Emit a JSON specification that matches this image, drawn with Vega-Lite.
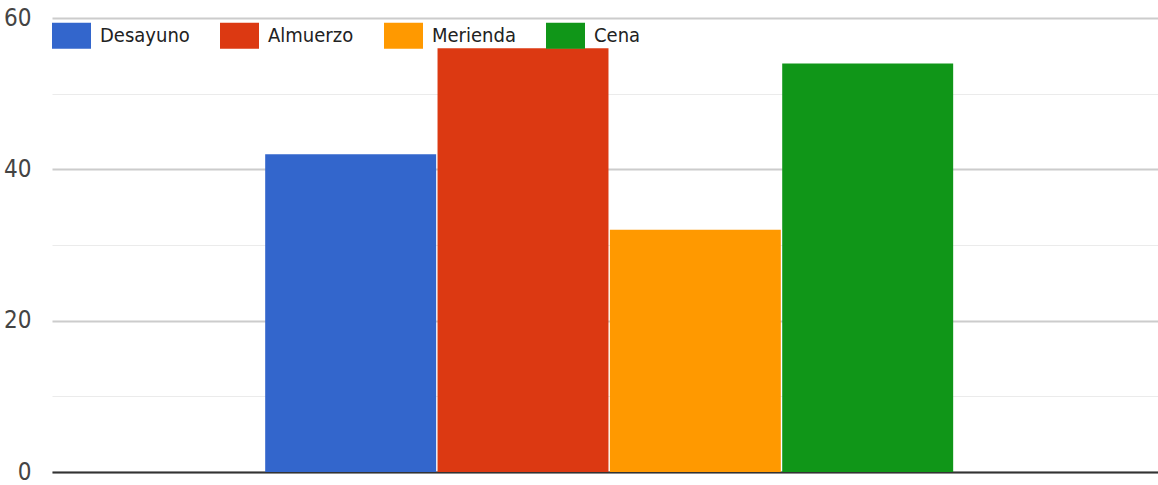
{
  "$schema": "https://vega.github.io/schema/vega-lite/v6.json",
  "autosize": "none",
  "width": 1106,
  "height": 454,
  "padding": {"left": 52, "top": 18, "right": 0, "bottom": 13},
  "background": "white",
  "config": {
    "view": {"stroke": null},
    "font": "DejaVu Sans Condensed, sans-serif"
  },
  "data": {
    "values": [
      {"grupo": "", "comida": "Desayuno", "valor": 42},
      {"grupo": "", "comida": "Almuerzo", "valor": 56},
      {"grupo": "", "comida": "Merienda", "valor": 32},
      {"grupo": "", "comida": "Cena", "valor": 54}
    ]
  },
  "mark": {"type": "bar"},
  "encoding": {
    "x": {
      "field": "grupo",
      "type": "nominal",
      "scale": {"paddingInner": 0, "paddingOuter": 0.3038, "align": 0.51},
      "axis": {
        "title": null,
        "labels": false,
        "ticks": false,
        "domainColor": "#333333",
        "domainWidth": 2
      }
    },
    "xOffset": {
      "field": "comida",
      "type": "nominal",
      "sort": ["Desayuno", "Almuerzo", "Merienda", "Cena"],
      "scale": {"paddingInner": 0.008, "paddingOuter": 0}
    },
    "y": {
      "field": "valor",
      "type": "quantitative",
      "scale": {"domain": [0, 60], "nice": false},
      "axis": {
        "title": null,
        "values": [0, 10, 20, 30, 40, 50, 60],
        "labelExpr": "datum.value % 20 === 0 ? datum.label : ''",
        "labelFontSize": 24,
        "labelColor": "#444444",
        "labelPadding": 21,
        "ticks": false,
        "domain": false,
        "gridColor": {"condition": {"test": "datum.value % 20 === 0", "value": "#cccccc"}, "value": "#ebebeb"},
        "gridWidth": {"condition": {"test": "datum.value % 20 === 0", "value": 2}, "value": 1}
      }
    },
    "color": {
      "field": "comida",
      "type": "nominal",
      "sort": ["Desayuno", "Almuerzo", "Merienda", "Cena"],
      "scale": {
        "domain": ["Desayuno", "Almuerzo", "Merienda", "Cena"],
        "range": ["#3366cc", "#dc3912", "#ff9900", "#109618"]
      },
      "legend": {
        "title": null,
        "orient": "none",
        "legendX": 0,
        "legendY": -2,
        "direction": "horizontal",
        "symbolType": "M-1,-0.667L1,-0.667L1,0.667L-1,0.667Z",
        "symbolSize": 1521,
        "symbolStrokeWidth": 0,
        "symbolOpacity": 1,
        "labelFontSize": 20,
        "labelColor": "#222222",
        "labelOffset": 9,
        "columnPadding": 30,
        "padding": 0
      }
    }
  }
}
